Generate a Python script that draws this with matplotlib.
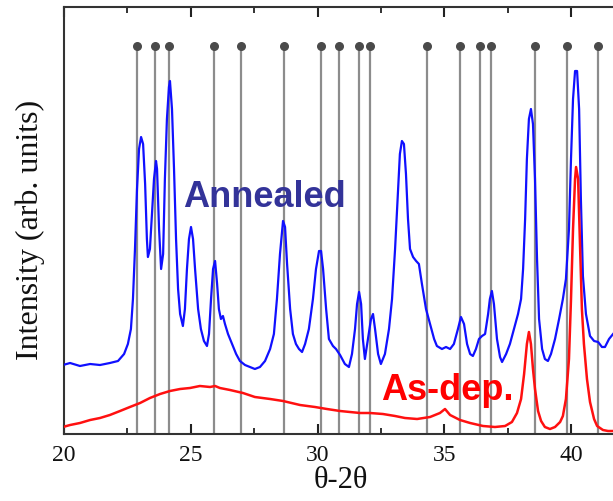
import matplotlib
matplotlib.use("Agg")
import matplotlib.pyplot as plt
from matplotlib.ticker import MultipleLocator, NullLocator

# ---- data ----
annealed_2theta = [
    19.96, 20.24, 20.63, 21.03, 21.42, 21.81, 22.13, 22.37, 22.52, 22.64, 22.72, 22.80, 22.88, 22.96,
    23.04, 23.12, 23.20, 23.27, 23.31, 23.39, 23.47, 23.55, 23.63, 23.67, 23.75, 23.83, 23.91, 23.98,
    24.06, 24.14, 24.18, 24.26, 24.34, 24.42, 24.50, 24.58, 24.69, 24.77, 24.85, 24.93, 25.01, 25.09,
    25.17, 25.29, 25.40, 25.52, 25.64, 25.72, 25.80, 25.88, 25.96, 26.04, 26.11, 26.19, 26.27, 26.35,
    26.47, 26.63, 26.79, 26.94, 27.14, 27.34, 27.53, 27.73, 27.93, 28.13, 28.28, 28.40, 28.52, 28.64,
    28.72, 28.80, 28.92, 29.03, 29.15, 29.27, 29.39, 29.51, 29.66, 29.82, 29.94, 30.06, 30.14, 30.22,
    30.34, 30.45, 30.61, 30.73, 30.89, 31.08, 31.24, 31.36, 31.48, 31.56, 31.64, 31.72, 31.79, 31.87,
    31.99, 32.11, 32.19, 32.27, 32.39, 32.50, 32.66, 32.82, 32.94, 33.06, 33.18, 33.25, 33.33, 33.41,
    33.49, 33.57, 33.65, 33.77, 33.89, 34.00, 34.12, 34.28, 34.44, 34.60, 34.71, 34.91, 35.07, 35.23,
    35.38, 35.54, 35.66, 35.78, 35.90, 36.02, 36.13, 36.25, 36.37, 36.49, 36.61, 36.73, 36.80, 36.88,
    36.96, 37.08, 37.20, 37.28, 37.44, 37.59, 37.75, 37.91, 38.03, 38.11, 38.19, 38.26, 38.34, 38.42,
    38.50, 38.58, 38.66, 38.74, 38.86, 38.97, 39.09, 39.21, 39.37, 39.53, 39.68, 39.80, 39.92, 40.00,
    40.08, 40.16, 40.24, 40.32, 40.39, 40.47, 40.59, 40.75, 40.91, 41.07, 41.22, 41.34, 41.50, 41.66,
]
annealed_intensity = [
    69, 71, 68, 70, 69, 71, 73, 80, 90, 105, 135, 185, 245, 285,
    297, 290, 250, 195, 177, 185, 220, 255, 273, 265, 205, 165, 180, 255,
    315, 347, 353, 325, 265, 195, 145, 120, 108, 125, 165, 195, 207, 195,
    165, 125, 105, 93, 88, 100, 135, 165, 173, 150, 125, 115, 118, 110,
    100, 90, 80, 73, 69, 67, 65, 67, 73, 85, 100, 135, 180, 213,
    207, 170, 125, 100, 90, 85, 82, 90, 105, 135, 165, 183, 183, 165,
    125, 95, 88, 85, 79, 70, 67, 80, 105, 130, 142, 130, 95, 75,
    95, 115, 120, 105, 80, 70, 80, 105, 135, 185, 245, 280, 293, 290,
    260, 215, 185, 177, 173, 170, 150, 125, 110, 95, 88, 85, 87, 85,
    90, 105, 117, 110, 90, 80, 78, 85, 95, 98, 100, 120, 135, 143,
    130, 95, 77, 72, 80, 90, 105, 120, 135, 165, 215, 275, 315, 325,
    310, 255, 175, 115, 85, 75, 73, 80, 95, 115, 135, 155, 205, 275,
    335, 363, 363, 325, 235, 158, 120, 98, 93, 92, 87, 87, 95, 100,
]

asdep_2theta = [
    19.96, 20.24, 20.63, 21.03, 21.42, 21.81, 22.21, 22.60, 23.00, 23.39, 23.79, 24.18, 24.58, 24.97,
    25.36, 25.76, 25.96, 26.15, 26.55, 27.06, 27.53, 28.13, 28.64, 29.31, 29.90, 30.37, 30.89, 31.28,
    31.68, 32.07, 32.58, 33.06, 33.45, 33.93, 34.44, 34.83, 35.03, 35.23, 35.62, 36.02, 36.53, 37.00,
    37.40, 37.67, 37.87, 38.03, 38.15, 38.26, 38.34, 38.42, 38.50, 38.58, 38.70, 38.82, 38.97, 39.17,
    39.37, 39.57, 39.68, 39.80, 39.92, 40.00, 40.08, 40.16, 40.20, 40.28, 40.36, 40.43, 40.51, 40.63,
    40.75, 40.91, 41.03, 41.26, 41.46, 41.66,
]
asdep_intensity = [
    7, 9, 11, 14, 16, 19, 23, 27, 31, 36, 40, 43, 45, 46,
    48, 47, 48, 46, 44, 41, 37, 35, 33, 29, 27, 25, 23, 22,
    21, 21, 20, 18, 16, 15, 17, 21, 25, 19, 14, 11, 8, 7,
    8, 12, 21, 35, 60, 90, 102, 90, 65, 45, 23, 13, 7, 5,
    7, 12, 18, 35, 75, 135, 205, 255, 267, 255, 185, 125, 90, 55,
    32, 15, 8, 4, 3, 3,
]

reference_peaks = [22.88, 23.59, 24.14, 25.92, 26.98, 28.68, 30.14, 30.85, 31.64, 32.07,
                   34.32, 35.62, 36.41, 36.84, 38.58, 39.84, 41.07]
marker_level = 388

x_ticks = [20, 25, 30, 35, 40]
x_label = "θ-2θ"
y_label = "Intensity (arb. units)"

# ---- figure ----
W, H, DPI = 613, 502, 100
fig = plt.figure(figsize=(W / DPI, H / DPI), dpi=DPI)
xmin, xmax = 20, 41.8
px_per_unit = 25.35
ax = fig.add_axes([64 / W, 67 / H, (xmax - xmin) * px_per_unit / W, 427 / H])
ax.set_xlim(xmin, xmax)
ax.set_ylim(0, 427)

for p in reference_peaks:
    ax.plot([p, p], [0, marker_level], color="#8c8c8c", lw=1.6, zorder=1)
ax.scatter(reference_peaks, [marker_level] * len(reference_peaks), s=30,
           color="#4a4a4a", zorder=2, clip_on=False)

ax.plot(annealed_2theta, annealed_intensity, color="#1010ff", lw=1.6, zorder=3)
ax.plot(asdep_2theta, asdep_intensity, color="#ff1010", lw=1.8, zorder=3)

ax.text(27.9, 228, "Annealed", color="#333399", fontsize=26, fontweight="bold",
        family=["Liberation Sans", "DejaVu Sans"], ha="center", va="baseline", zorder=4)
ax.text(35.12, 35, "As-dep.", color="#ff0000", fontsize=26, fontweight="bold",
        family=["Liberation Sans", "DejaVu Sans"], ha="center", va="baseline", zorder=4)

serif = ["Liberation Serif", "DejaVu Serif"]
ax.set_xticks(x_ticks)
ax.set_xticklabels([str(t) for t in x_ticks], family=serif, fontsize=17)
ax.xaxis.set_minor_locator(MultipleLocator(2.5))
ax.yaxis.set_major_locator(NullLocator())
ax.tick_params(axis="x", which="major", direction="in", length=7, width=1.5,
               top=True, bottom=True, pad=7, colors="#222222", labelcolor="#111111")
ax.tick_params(axis="x", which="minor", direction="in", length=4, width=1.3,
               top=True, bottom=True, colors="#222222")
for side in ["left", "top", "bottom"]:
    ax.spines[side].set_linewidth(1.5)
    ax.spines[side].set_color("#333333")
ax.spines["right"].set_visible(False)

ax.set_xlabel(x_label, family=serif, fontsize=22, labelpad=0, color="#111111")
fig.text(30 / W, 1 - 230 / H, y_label, family=serif, fontsize=23, rotation=90,
         ha="center", va="center", color="#111111")

fig.savefig("out.png", dpi=DPI)
